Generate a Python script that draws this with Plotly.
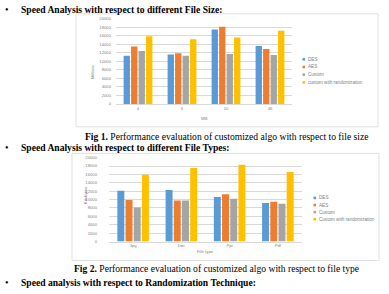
import plotly.graph_objects as go

# ---------------- data ----------------
series_names_1 = ["DES", "AES", "Custom", "custom with randomization"]
sizes = ["4", "6", "10", "46"]
des_size = [11300, 11600, 17500, 13600]
aes_size = [13500, 11900, 18100, 12900]
custom_size = [12400, 11300, 11700, 11500]
custom_rand_size = [15900, 15200, 15600, 17200]

series_names_2 = ["DES", "AES", "Custom", "Custom with randomization"]
types = ["Jpg", "Doc", "Ppt", "Pdf"]
des_type = [12100, 12300, 10600, 9200]
aes_type = [9900, 9800, 11300, 9500]
custom_type = [8100, 9800, 10200, 9000]
custom_rand_type = [15900, 17500, 18300, 16600]

y_ticks = [0, 2000, 4000, 6000, 8000, 10000, 12000, 14000, 16000, 18000, 20000]
colors = ["#5B9BD5", "#ED7D31", "#A5A5A5", "#FFC000"]

W, H = 389, 294
def px(x):
    return x / W
def py(y):
    return 1 - y / H

fig = go.Figure()
for name, vals, c in zip(series_names_1, [des_size, aes_size, custom_size, custom_rand_size], colors):
    fig.add_trace(go.Bar(x=sizes, y=vals, name=name, marker_color=c, marker_line_width=0,
                         xaxis="x", yaxis="y", showlegend=False))
for name, vals, c in zip(series_names_2, [des_type, aes_type, custom_type, custom_rand_type], colors):
    fig.add_trace(go.Bar(x=types, y=vals, name=name, marker_color=c, marker_line_width=0,
                         xaxis="x2", yaxis="y2", showlegend=False))

tickfont = dict(family="Liberation Sans", size=4.2, color="#7f7f7f")
grid = "#d9d9d9"
yax = dict(range=[0, 20000], tickvals=y_ticks, tickformat="d", showgrid=True, gridcolor=grid,
           gridwidth=0.7, zeroline=False, showline=False, ticks="", tickfont=tickfont,
           fixedrange=True)
xax = dict(showline=True, linecolor=grid, linewidth=0.7, ticks="", tickfont=tickfont,
           showgrid=False, fixedrange=True)

fig.update_layout(
    width=W, height=H, margin=dict(l=0, r=0, t=0, b=0),
    paper_bgcolor="white", plot_bgcolor="white",
    barmode="group", bargap=0.32, bargroupgap=0.15,
    xaxis=dict(xax, domain=[px(116), px(292)], anchor="y"),
    yaxis=dict(yax, domain=[py(102.7), py(16)], anchor="x", ticklabelstandoff=4),
    xaxis2=dict(xax, domain=[px(109), px(302)], anchor="y2"),
    yaxis2=dict(yax, domain=[py(242.7), py(157.3)], anchor="x2", ticklabelstandoff=11),
)

shapes = []
# chart borders
for (x0, y0, x1, y1) in [(76, 11, 378, 126), (72, 153, 379, 262)]:
    shapes.append(dict(type="rect", xref="paper", yref="paper", x0=px(x0), x1=px(x1),
                       y0=py(y1), y1=py(y0), line=dict(color=grid, width=0.8)))

annotations = []
serif = "Liberation Serif"
def text(x, y, s, size, bold=False, xanchor="left", color="black"):
    annotations.append(dict(x=px(x), y=py(y), xref="paper", yref="paper", text=s,
                            showarrow=False, xanchor=xanchor, yanchor="middle",
                            font=dict(family=serif, size=size, color=color)))

# document text
for yy, s in [(7, "<b>Speed Analysis with respect to different File Size:</b>"),
              (147, "<b>Speed Analysis with respect to different File Types:</b>"),
              (284, "<b>Speed analysis with respect to Randomization Technique:</b>")]:
    text(3, yy, "•", 10)
    text(19, yy, s, 9.6)
text(226, 136, "<b>Fig 1.</b> Performance evaluation of customized algo with respect to file size", 9.6, xanchor="center")
text(217, 270, "<b>Fig 2.</b> Performance evaluation of customized algo with respect to file type", 9.6, xanchor="center")

small = dict(family="Liberation Sans", size=4.3, color="#7f7f7f")
# axis titles
annotations.append(dict(x=px(204), y=py(118), xref="paper", yref="paper", text="MB",
                        showarrow=False, font=small))
annotations.append(dict(x=px(205), y=py(257), xref="paper", yref="paper", text="File type",
                        showarrow=False, font=small))
annotations.append(dict(x=px(88), y=py(60), xref="paper", yref="paper", text="Millisec",
                        showarrow=False, textangle=-90, font=small))
annotations.append(dict(x=px(81), y=py(196), xref="paper", yref="paper", text="Kilobytes",
                        showarrow=False, textangle=-90, font=small))

# legends
def legend(names, x, y0, dy):
    for i, (n, c) in enumerate(zip(names, colors)):
        yy = y0 + i * dy
        shapes.append(dict(type="rect", xref="paper", yref="paper", x0=px(x), x1=px(x + 2.6),
                           y0=py(yy + 1.3), y1=py(yy - 1.3), fillcolor=c, line=dict(width=0)))
        annotations.append(dict(x=px(x + 3.6), y=py(yy), xref="paper", yref="paper", text=n,
                                showarrow=False, xanchor="left", yanchor="middle",
                                font=dict(family="Liberation Sans", size=4.6, color="#7f7f7f")))

legend(series_names_1, 302.5, 57.3, 7.8)
legend(series_names_2, 313.5, 198.3, 7.2)

fig.update_layout(shapes=shapes, annotations=annotations)
fig.write_html("out.html")
